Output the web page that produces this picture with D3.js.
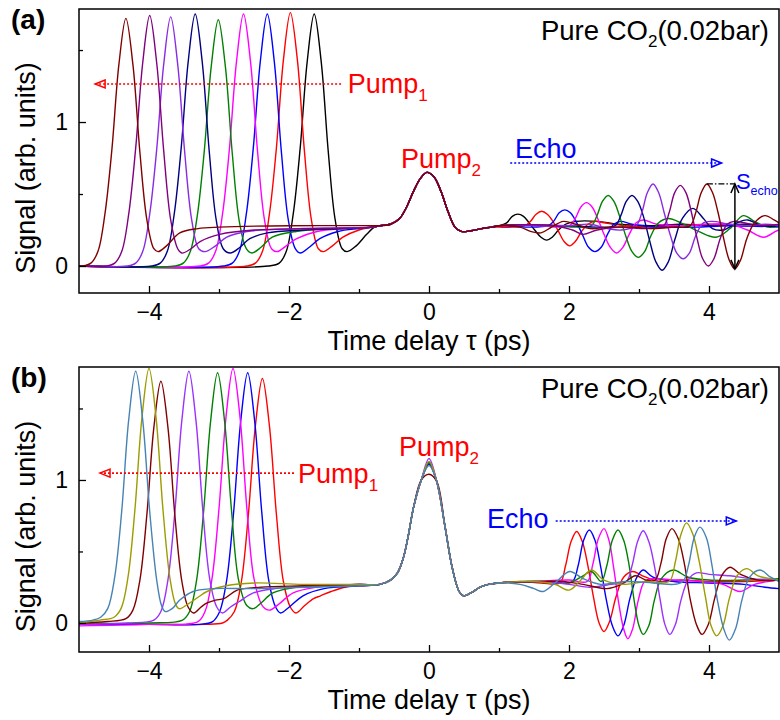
<!DOCTYPE html>
<html><head><meta charset="utf-8">
<script src="https://cdn.jsdelivr.net/npm/d3@7"></script>
<style>
body{margin:0;background:#fff}
svg{display:block}
text{font-family:"Liberation Sans",Arial,sans-serif}
</style>
</head><body>
<svg id="chart" width="780" height="720"></svg>
<script>
// ---------- axis ticks ----------
const timeTicks = [-4, -2, 0, 2, 4];
const timeMinor = [-3, -1, 1, 3];
const signalTicks = [0, 1];
const signalMinor = [0.5, 1.5];

// ---------- panel (a) ----------
const namesA  = ["black","red","blue","magenta","green","navy","violet","purple","maroon"];
const colorsA = ["#000000","#ff0000","#0000ff","#ff00ff","#008000","#000080","#8a2be2","#800080","#800000"];

const pump1A = [
  [[-5,0],[-2.3,0],[-2.14,0.02],[-2.04,0.10],[-1.94,0.36],[-1.84,0.82],[-1.74,1.42],[-1.64,1.75],[-1.54,1.42],[-1.44,0.80],[-1.34,0.32],[-1.24,0.12],[-1.17,0.10],[-1.04,0.14],[-0.89,0.22],[-0.78,0.27]],
  [[-5,0],[-2.6,0],[-2.48,0.02],[-2.38,0.10],[-2.28,0.36],[-2.18,0.82],[-2.08,1.43],[-1.98,1.76],[-1.88,1.43],[-1.78,0.80],[-1.68,0.32],[-1.58,0.12],[-1.51,0.10],[-1.38,0.14],[-1.23,0.20],[-1.0,0.25],[-0.8,0.27]],
  [[-5,0],[-2.93,0],[-2.81,0.02],[-2.71,0.10],[-2.61,0.36],[-2.51,0.82],[-2.41,1.42],[-2.31,1.75],[-2.21,1.42],[-2.11,0.80],[-2.01,0.32],[-1.91,0.12],[-1.84,0.09],[-1.71,0.13],[-1.56,0.19],[-1.3,0.24],[-1.0,0.26],[-0.8,0.27]],
  [[-5,0],[-3.27,0],[-3.15,0.02],[-3.05,0.10],[-2.95,0.36],[-2.85,0.82],[-2.75,1.42],[-2.65,1.75],[-2.55,1.42],[-2.45,0.80],[-2.35,0.32],[-2.25,0.12],[-2.17,0.10],[-2.04,0.14],[-1.89,0.19],[-1.6,0.24],[-1.2,0.26],[-0.8,0.27]],
  [[-5,0],[-3.63,0],[-3.51,0.02],[-3.41,0.10],[-3.31,0.35],[-3.21,0.80],[-3.11,1.39],[-3.01,1.71],[-2.91,1.39],[-2.81,0.78],[-2.71,0.31],[-2.61,0.12],[-2.53,0.09],[-2.4,0.13],[-2.24,0.20],[-1.9,0.24],[-1.3,0.26],[-0.8,0.27]],
  [[-5,0],[-3.96,0],[-3.84,0.02],[-3.74,0.10],[-3.64,0.36],[-3.54,0.82],[-3.44,1.42],[-3.34,1.75],[-3.24,1.42],[-3.14,0.80],[-3.04,0.32],[-2.94,0.12],[-2.84,0.09],[-2.7,0.13],[-2.56,0.19],[-2.31,0.23],[-1.8,0.25],[-1.2,0.26],[-0.8,0.27]],
  [[-5,0],[-4.31,0],[-4.19,0.02],[-4.09,0.10],[-3.99,0.36],[-3.89,0.81],[-3.79,1.40],[-3.69,1.73],[-3.59,1.40],[-3.49,0.79],[-3.39,0.32],[-3.29,0.12],[-3.2,0.10],[-3.05,0.14],[-2.89,0.20],[-2.6,0.24],[-1.8,0.26],[-0.8,0.27]],
  [[-5,0],[-4.61,0],[-4.49,0.02],[-4.39,0.10],[-4.29,0.36],[-4.19,0.82],[-4.09,1.41],[-3.99,1.74],[-3.89,1.41],[-3.79,0.80],[-3.69,0.32],[-3.59,0.12],[-3.53,0.09],[-3.4,0.12],[-3.27,0.17],[-2.99,0.22],[-2.5,0.25],[-1.5,0.26],[-0.8,0.27]],
  [[-5,0],[-4.95,0],[-4.83,0.02],[-4.73,0.10],[-4.63,0.36],[-4.53,0.81],[-4.43,1.40],[-4.33,1.72],[-4.23,1.40],[-4.13,0.79],[-4.03,0.32],[-3.93,0.12],[-3.87,0.10],[-3.75,0.14],[-3.56,0.23],[-3.3,0.26],[-3.0,0.27],[-2.0,0.28],[-0.8,0.28]]
];

const pump2A = [[-0.7,0.28],[-0.55,0.29],[-0.42,0.33],[-0.32,0.41],[-0.22,0.52],[-0.12,0.61],[-0.03,0.65],[0.07,0.62],[0.17,0.52],[0.27,0.38],[0.37,0.27],[0.46,0.24],[0.6,0.245],[0.75,0.26],[0.9,0.27]];

const echoA = [
  [[1.0,0.28],[1.11,0.30],[1.19,0.345],[1.27,0.36],[1.35,0.345],[1.43,0.30],[1.51,0.25],[1.60,0.20],[1.68,0.18],[1.76,0.20],[1.85,0.25],[1.95,0.29],[2.1,0.31],[2.4,0.31],[2.7,0.29],[3.2,0.28],[3.6,0.29],[4.0,0.28],[4.5,0.29],[5.0,0.28]],
  [[1.0,0.27],[1.2,0.27],[1.37,0.28],[1.45,0.31],[1.53,0.36],[1.61,0.38],[1.69,0.36],[1.77,0.31],[1.85,0.24],[1.93,0.17],[2.01,0.14],[2.09,0.17],[2.18,0.24],[2.27,0.29],[2.36,0.31],[2.5,0.30],[2.8,0.28],[3.2,0.27],[3.6,0.28],[4.0,0.29],[4.4,0.28],[5.0,0.28]],
  [[1.0,0.28],[1.4,0.27],[1.7,0.28],[1.78,0.31],[1.86,0.37],[1.94,0.39],[2.02,0.37],[2.10,0.31],[2.19,0.22],[2.28,0.13],[2.37,0.10],[2.46,0.13],[2.55,0.22],[2.64,0.29],[2.74,0.31],[2.9,0.29],[3.3,0.27],[3.8,0.27],[4.3,0.28],[5.0,0.27]],
  [[1.0,0.28],[1.6,0.28],[1.85,0.27],[2.01,0.28],[2.09,0.33],[2.17,0.41],[2.25,0.44],[2.33,0.41],[2.41,0.33],[2.50,0.22],[2.59,0.13],[2.68,0.09],[2.77,0.13],[2.86,0.22],[2.96,0.30],[3.06,0.32],[3.25,0.29],[3.6,0.28],[4.0,0.29],[4.3,0.29],[4.55,0.25],[4.78,0.20],[4.95,0.24],[5.0,0.25]],
  [[1.0,0.28],[1.8,0.28],[2.1,0.27],[2.32,0.28],[2.40,0.35],[2.48,0.45],[2.56,0.49],[2.64,0.45],[2.72,0.35],[2.81,0.21],[2.90,0.10],[2.99,0.06],[3.08,0.10],[3.17,0.21],[3.28,0.30],[3.42,0.33],[3.6,0.30],[3.85,0.24],[4.1,0.20],[4.3,0.26],[4.49,0.35],[4.65,0.31],[4.85,0.27],[5.0,0.28]],
  [[1.0,0.28],[2.0,0.28],[2.4,0.27],[2.66,0.28],[2.74,0.35],[2.82,0.45],[2.90,0.49],[2.98,0.45],[3.06,0.35],[3.15,0.18],[3.24,0.03],[3.33,-0.03],[3.42,0.03],[3.51,0.18],[3.62,0.33],[3.77,0.40],[3.92,0.33],[4.05,0.26],[4.2,0.25],[4.4,0.30],[4.55,0.32],[4.75,0.28],[5.0,0.28]],
  [[1.0,0.28],[2.0,0.28],[2.3,0.29],[2.55,0.26],[2.75,0.25],[2.96,0.28],[3.04,0.37],[3.12,0.51],[3.20,0.57],[3.28,0.51],[3.36,0.37],[3.45,0.21],[3.54,0.09],[3.63,0.05],[3.72,0.09],[3.81,0.21],[3.92,0.30],[4.05,0.31],[4.3,0.29],[4.6,0.28],[4.8,0.29],[5.0,0.28]],
  [[1.0,0.28],[1.8,0.28],[2.05,0.25],[2.2,0.22],[2.4,0.25],[2.7,0.27],[3.05,0.26],[3.35,0.28],[3.43,0.37],[3.51,0.51],[3.59,0.56],[3.67,0.51],[3.75,0.37],[3.83,0.19],[3.91,0.05],[3.99,0.00],[4.07,0.05],[4.16,0.19],[4.26,0.29],[4.36,0.31],[4.5,0.30],[4.75,0.28],[5.0,0.29]],
  [[1.0,0.28],[1.3,0.27],[1.45,0.24],[1.6,0.23],[1.75,0.27],[1.92,0.31],[2.1,0.29],[2.3,0.26],[2.6,0.27],[2.9,0.27],[3.2,0.26],[3.5,0.27],[3.73,0.28],[3.81,0.37],[3.89,0.51],[3.97,0.57],[4.05,0.51],[4.13,0.37],[4.21,0.19],[4.29,0.04],[4.37,-0.02],[4.45,0.04],[4.54,0.19],[4.65,0.30],[4.8,0.35],[4.93,0.32],[5.0,0.30]]
];

// ---------- panel (b) ----------
const namesB  = ["red","blue","magenta","green","violet","maroon","olive","steelblue"];
const colorsB = ["#ff0000","#0000ff","#ff00ff","#008000","#9b30ff","#800000","#9c9c00","#4682b4"];

const pump1B = [
  [[-5,-0.01],[-4.0,-0.01],[-3.2,-0.01],[-2.95,0.0],[-2.88,0.02],[-2.78,0.08],[-2.68,0.29],[-2.58,0.76],[-2.48,1.38],[-2.38,1.71],[-2.28,1.38],[-2.18,0.76],[-2.08,0.29],[-1.98,0.11],[-1.9,0.07],[-1.78,0.12],[-1.65,0.17],[-1.55,0.19],[-1.4,0.22],[-1.2,0.25],[-1.0,0.26]],
  [[-5,-0.01],[-4.0,-0.01],[-3.3,-0.01],[-3.09,0.01],[-2.99,0.08],[-2.89,0.30],[-2.79,0.78],[-2.69,1.41],[-2.59,1.75],[-2.49,1.41],[-2.39,0.78],[-2.29,0.30],[-2.19,0.11],[-2.12,0.07],[-2.0,0.11],[-1.8,0.19],[-1.5,0.24],[-1.0,0.26]],
  [[-5,-0.02],[-4.0,-0.01],[-3.3,0.01],[-3.2,0.08],[-3.1,0.31],[-3.0,0.80],[-2.9,1.44],[-2.8,1.78],[-2.7,1.44],[-2.6,0.79],[-2.5,0.31],[-2.38,0.12],[-2.28,0.09],[-2.15,0.13],[-1.94,0.21],[-1.6,0.25],[-1.0,0.27]],
  [[-5,0.0],[-4.0,0.0],[-3.52,0.02],[-3.42,0.08],[-3.32,0.30],[-3.22,0.78],[-3.12,1.41],[-3.02,1.75],[-2.92,1.41],[-2.82,0.78],[-2.72,0.30],[-2.6,0.12],[-2.51,0.10],[-2.4,0.14],[-2.23,0.21],[-1.9,0.25],[-1.4,0.26],[-1.0,0.27]],
  [[-5,-0.01],[-4.3,0.0],[-3.93,0.02],[-3.83,0.08],[-3.73,0.30],[-3.63,0.78],[-3.53,1.42],[-3.43,1.76],[-3.33,1.42],[-3.23,0.78],[-3.13,0.30],[-3.03,0.11],[-2.95,0.07],[-2.84,0.11],[-2.71,0.15],[-2.51,0.21],[-2.2,0.24],[-1.6,0.26],[-1.0,0.27]],
  [[-5,0.0],[-4.6,0.01],[-4.33,0.03],[-4.23,0.09],[-4.13,0.30],[-4.03,0.76],[-3.93,1.37],[-3.83,1.69],[-3.73,1.37],[-3.63,0.75],[-3.53,0.29],[-3.44,0.11],[-3.36,0.07],[-3.26,0.11],[-3.17,0.14],[-3.05,0.16],[-2.93,0.17],[-2.74,0.23],[-2.4,0.25],[-1.8,0.26],[-1.0,0.27]],
  [[-5,0.0],[-4.7,0.02],[-4.5,0.04],[-4.4,0.10],[-4.3,0.32],[-4.2,0.80],[-4.1,1.44],[-4.0,1.78],[-3.9,1.44],[-3.8,0.79],[-3.7,0.31],[-3.62,0.13],[-3.57,0.10],[-3.45,0.13],[-3.3,0.18],[-3.17,0.22],[-2.9,0.26],[-2.5,0.28],[-1.8,0.27],[-1.0,0.27]],
  [[-5,0.01],[-4.8,0.02],[-4.69,0.04],[-4.59,0.10],[-4.49,0.32],[-4.39,0.78],[-4.29,1.42],[-4.19,1.76],[-4.09,1.42],[-3.99,0.78],[-3.89,0.30],[-3.82,0.12],[-3.77,0.08],[-3.67,0.10],[-3.56,0.16],[-3.37,0.22],[-3.1,0.24],[-2.5,0.24],[-1.8,0.25],[-1.0,0.26]]
];

const pump2BRise = [[-0.7,0.27],[-0.55,0.30],[-0.45,0.35],[-0.37,0.45],[-0.3,0.60],[-0.22,0.81],[-0.11,1.0]];
const peak2B = [1.12, 1.11, 1.12, 1.12, 1.15, 1.04, 1.13, 1.10];
const pump2BFall = [[0.11,0.99],[0.23,0.67],[0.33,0.39],[0.43,0.22],[0.49,0.19],[0.6,0.21],[0.73,0.25],[0.85,0.27]];

const echoB = [
  [[1.0,0.28],[1.3,0.29],[1.6,0.28],[1.87,0.28],[1.95,0.40],[2.03,0.57],[2.11,0.64],[2.19,0.57],[2.27,0.40],[2.35,0.18],[2.43,0.00],[2.50,-0.06],[2.58,0.01],[2.67,0.18],[2.78,0.32],[2.91,0.36],[3.05,0.33],[3.3,0.29],[3.6,0.30],[4.0,0.29],[4.5,0.29],[5.0,0.30]],
  [[1.0,0.28],[1.4,0.29],[1.8,0.28],[2.05,0.29],[2.13,0.40],[2.21,0.58],[2.29,0.65],[2.37,0.58],[2.45,0.40],[2.53,0.17],[2.62,-0.02],[2.70,-0.09],[2.78,-0.02],[2.87,0.17],[2.97,0.32],[3.06,0.37],[3.2,0.32],[3.5,0.29],[4.0,0.28],[4.5,0.27],[4.8,0.25],[5.0,0.24]],
  [[1.0,0.28],[1.5,0.29],[2.0,0.30],[2.26,0.29],[2.34,0.41],[2.42,0.59],[2.50,0.66],[2.57,0.58],[2.64,0.38],[2.71,0.14],[2.78,-0.04],[2.84,-0.11],[2.91,-0.04],[2.99,0.16],[3.08,0.29],[3.2,0.31],[3.5,0.30],[3.9,0.29],[4.2,0.27],[4.44,0.22],[4.65,0.27],[5.0,0.30]],
  [[1.0,0.28],[1.6,0.29],[2.0,0.28],[2.2,0.33],[2.32,0.36],[2.46,0.29],[2.54,0.40],[2.62,0.58],[2.70,0.65],[2.78,0.58],[2.86,0.40],[2.93,0.16],[3.0,-0.02],[3.06,-0.08],[3.14,-0.02],[3.22,0.16],[3.32,0.31],[3.49,0.37],[3.7,0.32],[4.0,0.30],[4.5,0.30],[5.0,0.31]],
  [[1.0,0.28],[1.6,0.29],[2.0,0.27],[2.3,0.25],[2.6,0.27],[2.82,0.29],[2.90,0.40],[2.98,0.57],[3.06,0.645],[3.14,0.57],[3.22,0.40],[3.30,0.17],[3.37,-0.01],[3.44,-0.08],[3.52,-0.01],[3.60,0.16],[3.70,0.30],[3.82,0.35],[4.0,0.34],[4.3,0.33],[4.6,0.31],[5.0,0.30]],
  [[1.0,0.28],[1.5,0.29],[1.9,0.29],[2.2,0.27],[2.54,0.24],[2.75,0.27],[2.95,0.33],[3.1,0.30],[3.23,0.30],[3.31,0.41],[3.39,0.59],[3.47,0.66],[3.56,0.59],[3.65,0.41],[3.73,0.17],[3.82,-0.01],[3.90,-0.08],[3.99,-0.01],[4.08,0.17],[4.18,0.33],[4.30,0.39],[4.45,0.34],[4.7,0.30],[5.0,0.30]],
  [[1.0,0.28],[1.5,0.29],[1.8,0.27],[2.0,0.23],[2.15,0.29],[2.32,0.37],[2.5,0.30],[2.8,0.27],[3.1,0.29],[3.43,0.29],[3.52,0.43],[3.60,0.62],[3.68,0.70],[3.77,0.62],[3.86,0.43],[3.95,0.18],[4.03,-0.02],[4.11,-0.09],[4.20,-0.02],[4.29,0.17],[4.40,0.33],[4.54,0.38],[4.7,0.33],[5.0,0.30]],
  [[1.0,0.28],[1.3,0.27],[1.5,0.24],[1.63,0.22],[1.8,0.28],[2.01,0.36],[2.2,0.31],[2.45,0.27],[2.8,0.29],[3.2,0.28],[3.5,0.27],[3.63,0.29],[3.71,0.41],[3.79,0.60],[3.87,0.67],[3.96,0.60],[4.04,0.41],[4.12,0.16],[4.21,-0.04],[4.29,-0.12],[4.38,-0.04],[4.47,0.16],[4.58,0.32],[4.73,0.37],[4.88,0.32],[5.0,0.29]]
];

// ---------- build series ----------
const seriesA = namesA.map((n, i) => ({name: n, color: colorsA[i], pts: pump1A[i].concat(pump2A, echoA[i])}));
const seriesB = namesB.map((n, i) => ({name: n, color: colorsB[i], pts: pump1B[i].concat(pump2BRise, [[0, peak2B[i]]], pump2BFall, echoB[i])}));

// ---------- drawing ----------
const svg = d3.select("#chart");
const FONT = '"Liberation Sans", Arial, sans-serif';
const L = 79, R = 779;

const panels = [
  {key: "a", top: 9, bottom: 293, ydom: [-0.1875, 1.785], series: seriesA},
  {key: "b", top: 367, bottom: 652, ydom: [-0.203, 1.79], series: seriesB}
];

function richText(g, x, y, parts, opts) {
  const t = g.append("text").attr("x", x).attr("y", y)
    .attr("fill", opts.color || "#000")
    .attr("font-size", opts.size)
    .attr("text-anchor", opts.anchor || "start");
  parts.forEach(p => {
    if (p.sub) {
      t.append("tspan").attr("font-size", p.size || opts.subSize).attr("dy", opts.subDy).text(p.t);
    } else if (p.back) {
      t.append("tspan").attr("dy", -opts.subDy).text(p.t);
    } else {
      t.append("tspan").text(p.t);
    }
  });
  return t;
}

panels.forEach((P, pi) => {
  const x = d3.scaleLinear().domain([-5, 5]).range([L, R]);
  const y = d3.scaleLinear().domain(P.ydom).range([P.bottom, P.top]);
  P.x = x; P.y = y;
  const g = svg.append("g");

  g.append("clipPath").attr("id", "clip" + P.key)
    .append("rect").attr("x", L).attr("y", P.top).attr("width", R - L).attr("height", P.bottom - P.top);

  const line = d3.line().x(d => x(d[0])).y(d => y(d[1])).curve(d3.curveCatmullRom.alpha(0.5));
  g.append("g").attr("clip-path", `url(#clip${P.key})`)
    .selectAll("path").data(P.series).join("path")
    .attr("d", d => line(d.pts))
    .attr("fill", "none").attr("stroke", d => d.color).attr("stroke-width", 1.4)
    .attr("stroke-linejoin", "round");

  // axes
  const xa = g.append("g").attr("transform", `translate(0,${P.bottom})`)
    .call(d3.axisBottom(x).tickValues(timeTicks).tickSize(-7).tickPadding(11).tickFormat(d3.format("d")));
  const xm = g.append("g").attr("transform", `translate(0,${P.bottom})`)
    .call(d3.axisBottom(x).tickValues(timeMinor).tickSize(-4).tickFormat(""));
  const ya = g.append("g").attr("transform", `translate(${L},0)`)
    .call(d3.axisLeft(y).tickValues(signalTicks).tickSize(-7).tickPadding(11).tickFormat(d3.format("d")));
  const ym = g.append("g").attr("transform", `translate(${L},0)`)
    .call(d3.axisLeft(y).tickValues(signalMinor).tickSize(-4).tickFormat(""));
  [xa, xm, ya, ym].forEach(a => {
    a.select(".domain").remove();
    a.selectAll("line").attr("stroke", "#000").attr("stroke-width", 1.3);
    a.selectAll("text").attr("font-family", FONT).attr("font-size", 23).attr("fill", "#000");
  });

  g.append("rect").attr("x", L).attr("y", P.top).attr("width", R - L).attr("height", P.bottom - P.top)
    .attr("fill", "none").attr("stroke", "#000").attr("stroke-width", 1.5);

  // axis titles
  g.append("text").attr("x", (L + R) / 2).attr("y", P.bottom + 57)
    .attr("text-anchor", "middle").attr("font-size", 27).text("Time delay \u03c4 (ps)");
  g.append("text").attr("transform", `translate(35,${(P.top + P.bottom) / 2 + 17}) rotate(-90)`)
    .attr("text-anchor", "middle").attr("font-size", 27).text("Signal (arb. units)");

  // panel label
  g.append("text").attr("x", 11).attr("y", P.top + 20).attr("font-size", 28).attr("font-weight", "bold")
    .text(`(${P.key})`);

  // sample label
  richText(g, R - 10, P.top + 31, [{t: "Pure CO"}, {t: "2", sub: true}, {t: "(0.02bar)", back: true}],
    {size: 27.5, subSize: 17, subDy: 7, anchor: "end"});
});

// ---------- annotations ----------
function dotted(g, x1, x2, yy, color) {
  g.append("line").attr("x1", x1).attr("x2", x2).attr("y1", yy).attr("y2", yy)
    .attr("stroke", color).attr("stroke-width", 1.6).attr("stroke-dasharray", "2,2");
}
function headLeft(g, x0, yy, color) {
  g.append("path").attr("d", `M${x0 + 10},${yy - 4}L${x0},${yy}L${x0 + 10},${yy + 4}Z`)
    .attr("fill", "none").attr("stroke", color).attr("stroke-width", 1.5);
}
function headRight(g, x0, yy, color) {
  g.append("path").attr("d", `M${x0 - 10},${yy - 4}L${x0},${yy}L${x0 - 10},${yy + 4}Z`)
    .attr("fill", "none").attr("stroke", color).attr("stroke-width", 1.5);
}

{
  const P = panels[0], x = P.x, y = P.y, g = svg.append("g");
  const ya = y(1.264);
  dotted(g, x(-4.77), x(-1.23), ya, "#ff0000");
  headLeft(g, x(-4.77), ya, "#ff0000");
  richText(g, x(-1.16), y(1.2), [{t: "Pump"}, {t: "1", sub: true}], {size: 27, subSize: 17, subDy: 8, color: "#ff0000"});
  richText(g, x(-0.4), y(0.684), [{t: "Pump"}, {t: "2", sub: true}], {size: 27, subSize: 17, subDy: 8, color: "#ff0000"});
  g.append("text").attr("x", x(1.23)).attr("y", y(0.75)).attr("font-size", 27).attr("fill", "#0000ff").text("Echo");
  const ye = y(0.715);
  dotted(g, x(1.16), x(4.18), ye, "#0000ff");
  headRight(g, x(4.18), ye, "#0000ff");
  // S_echo marker
  const xs = x(4.37), yt = y(0.57), yb = y(-0.02);
  g.append("line").attr("x1", x(3.97)).attr("x2", xs).attr("y1", yt).attr("y2", yt)
    .attr("stroke", "#000").attr("stroke-width", 1.2).attr("stroke-dasharray", "6,2,1.5,2");
  g.append("line").attr("x1", xs).attr("x2", xs).attr("y1", yt).attr("y2", yb).attr("stroke", "#000").attr("stroke-width", 1.5);
  g.append("path").attr("d", `M${xs - 4},${yt + 9}L${xs},${yt}L${xs + 4},${yt + 9}M${xs - 4},${yb - 9}L${xs},${yb}L${xs + 4},${yb - 9}`)
    .attr("fill", "none").attr("stroke", "#000").attr("stroke-width", 1.5);
  richText(g, xs + 1, y(0.535), [{t: "S"}, {t: "echo", sub: true}], {size: 22, subSize: 12.5, subDy: 6, color: "#0000ff"});
}
{
  const P = panels[1], x = P.x, y = P.y, g = svg.append("g");
  const ya = y(1.048);
  dotted(g, x(-4.7), x(-1.92), ya, "#ff0000");
  headLeft(g, x(-4.7), ya, "#ff0000");
  richText(g, x(-1.87), y(0.979), [{t: "Pump"}, {t: "1", sub: true}], {size: 27, subSize: 17, subDy: 8, color: "#ff0000"});
  richText(g, x(-0.43), y(1.17), [{t: "Pump"}, {t: "2", sub: true}], {size: 27, subSize: 17, subDy: 8, color: "#ff0000"});
  g.append("text").attr("x", x(0.83)).attr("y", y(0.664)).attr("font-size", 27).attr("fill", "#0000ff").text("Echo");
  const ye = y(0.713);
  dotted(g, x(1.81), x(4.39), ye, "#0000ff");
  headRight(g, x(4.39), ye, "#0000ff");
}
</script>
</body></html>
